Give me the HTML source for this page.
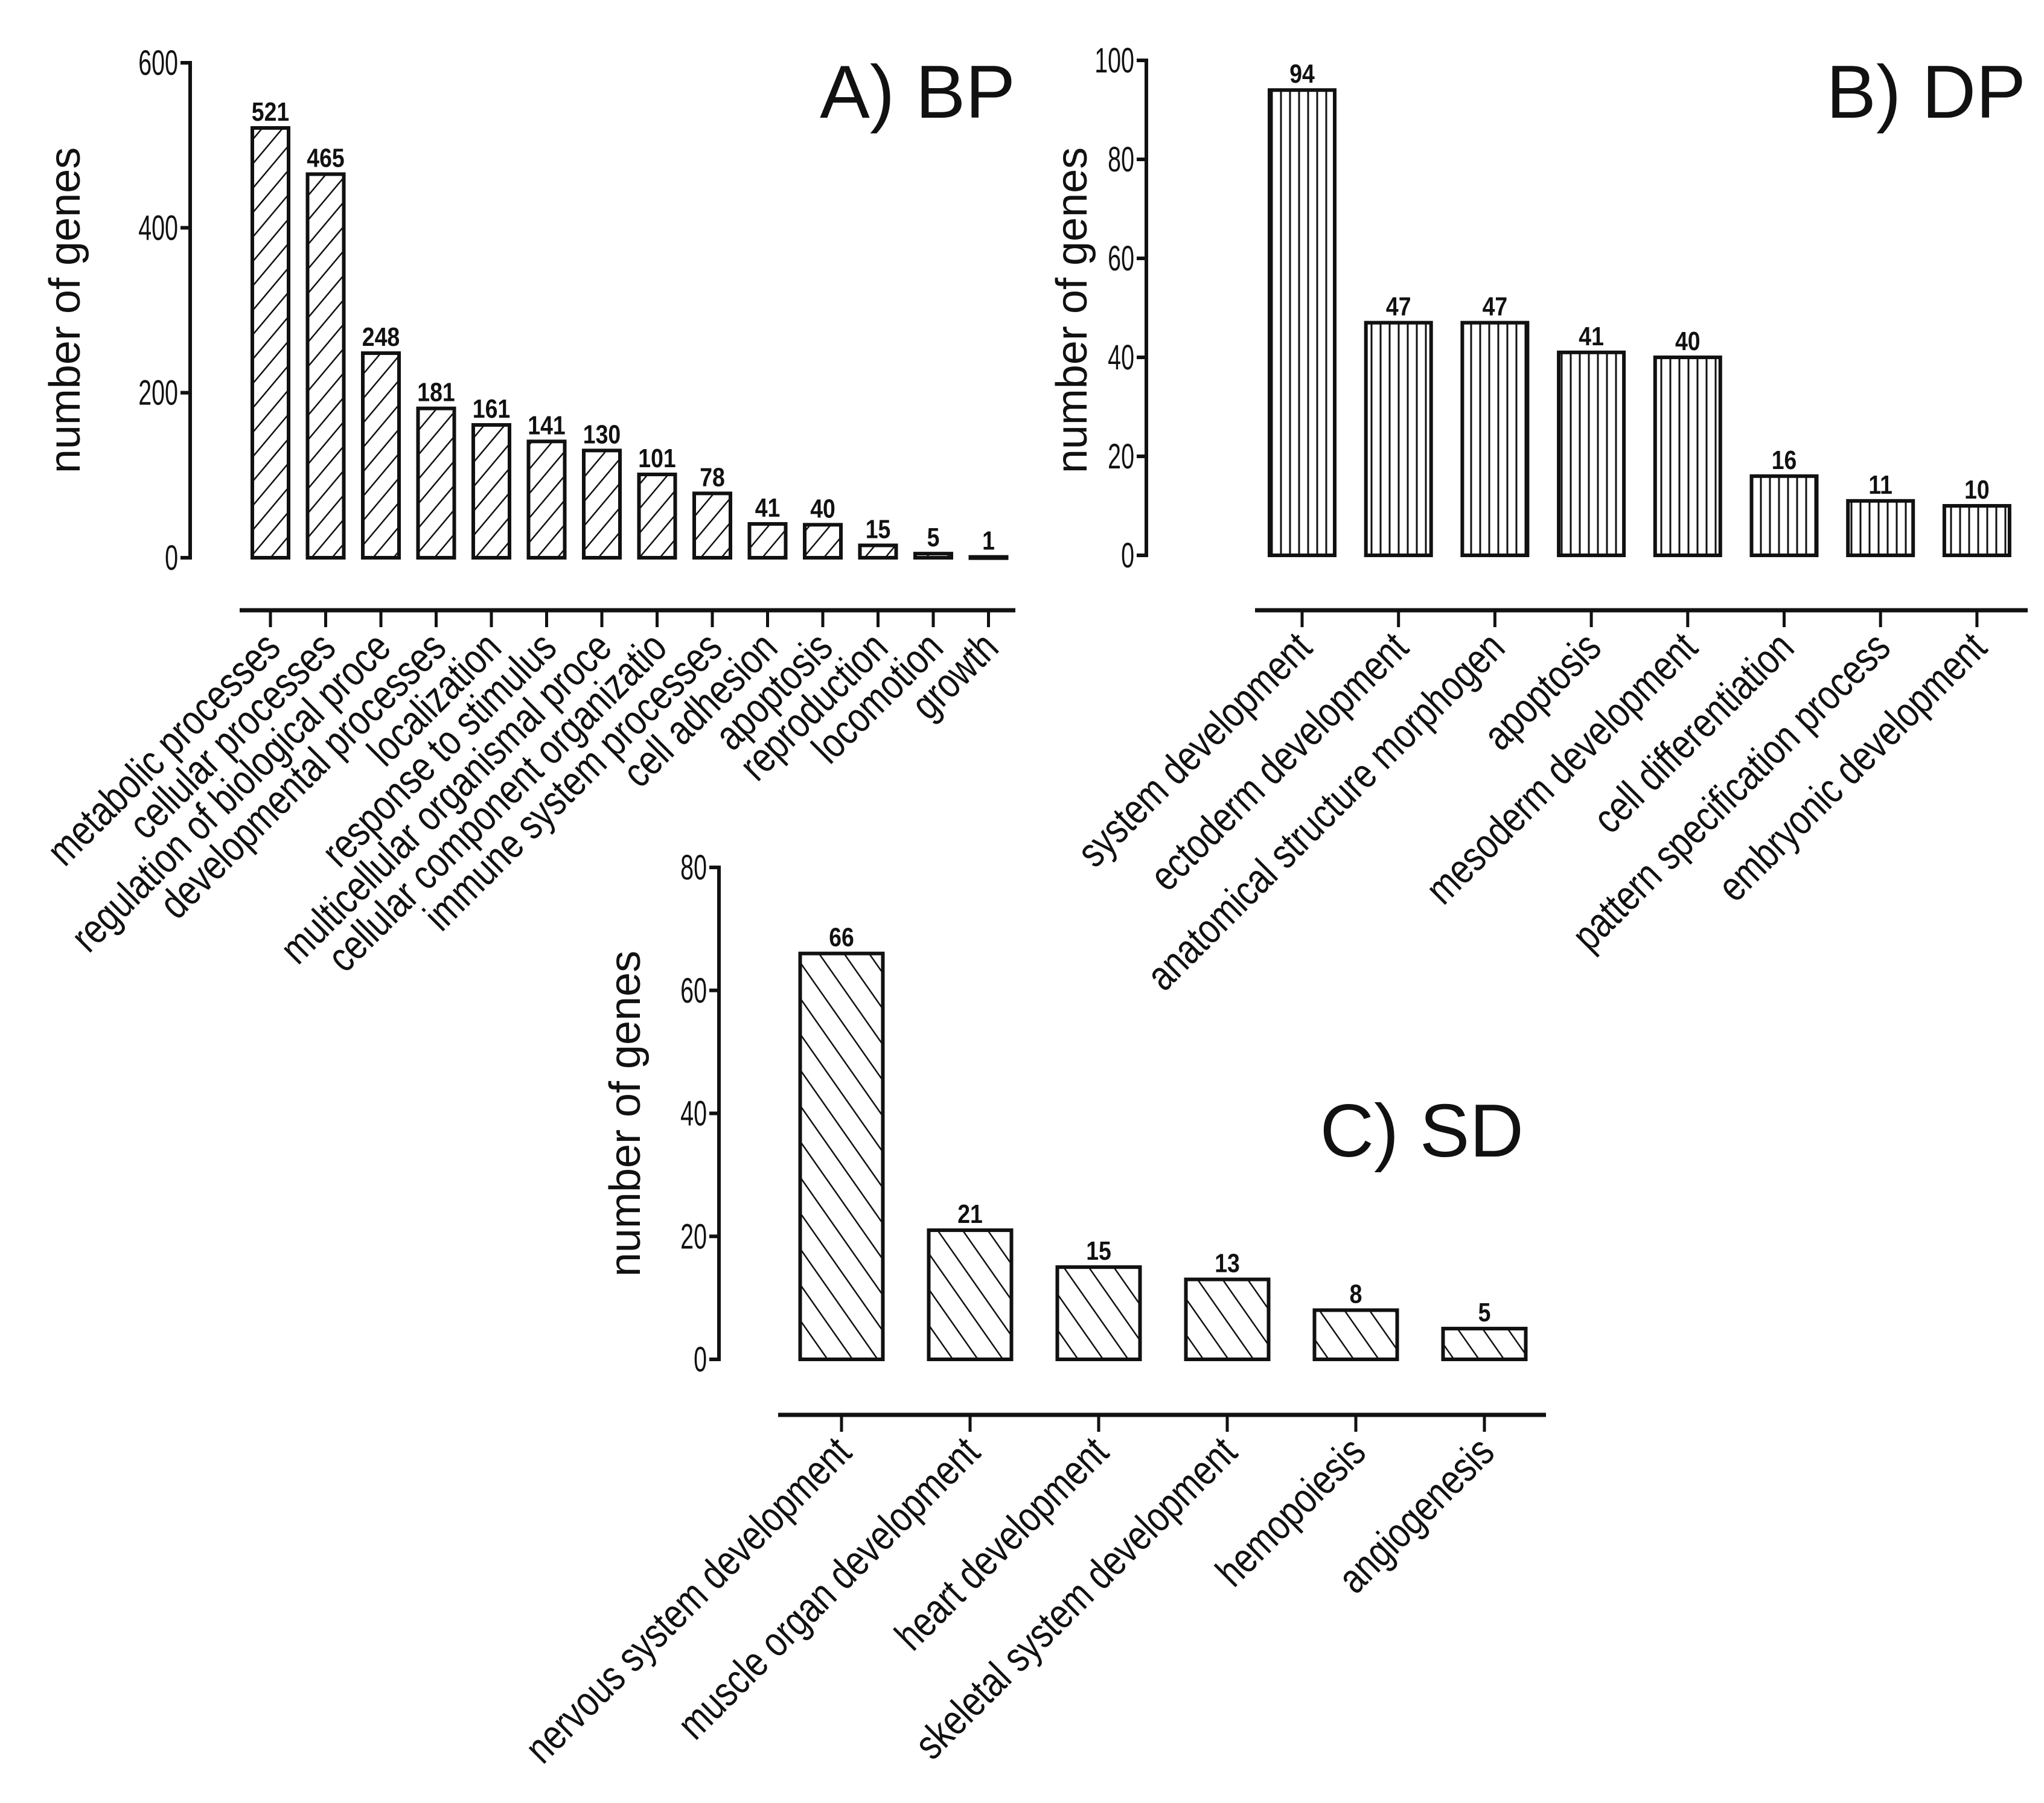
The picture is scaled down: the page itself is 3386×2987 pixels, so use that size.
<!DOCTYPE html>
<html><head><meta charset="utf-8"><style>
html,body{margin:0;padding:0;background:#fff}
svg{display:block}
text{font-family:"Liberation Sans",sans-serif;fill:#111}
</style></head><body>
<svg id="chart" width="3386" height="2987" viewBox="0 0 3386 2987" xmlns="http://www.w3.org/2000/svg">
<defs>
<pattern id="hA" patternUnits="userSpaceOnUse" width="26" height="26" patternTransform="rotate(40)"><rect width="26" height="26" fill="#fff"/><line x1="0" y1="0" x2="0" y2="26" stroke="#111" stroke-width="5"/></pattern>
<pattern id="hB" patternUnits="userSpaceOnUse" width="15" height="15"><rect width="15" height="15" fill="#fff"/><line x1="7" y1="0" x2="7" y2="15" stroke="#111" stroke-width="3"/></pattern>
<pattern id="hC" patternUnits="userSpaceOnUse" width="34" height="34" patternTransform="rotate(-35)"><rect width="34" height="34" fill="#fff"/><line x1="0" y1="0" x2="0" y2="34" stroke="#111" stroke-width="5"/></pattern>
</defs>
<g id="gA"></g><g id="gB"></g><g id="gC"></g>
</svg>
<script>
const catsA = ["metabolic processes","cellular processes","regulation of biological proce","developmental processes","localization","response to stimulus","multicellular organismal proce","cellular component organizatio","immune system processes","cell adhesion","apoptosis","reproduction","locomotion","growth"];
const valsA = [521,465,248,181,161,141,130,101,78,41,40,15,5,1];
const ticksA = [0,200,400,600];
const catsB = ["system development","ectoderm development","anatomical structure morphogen","apoptosis","mesoderm development","cell differentiation","pattern specification process","embryonic development"];
const valsB = [94,47,47,41,40,16,11,10];
const ticksB = [0,20,40,60,80,100];
const catsC = ["nervous system development","muscle organ development","heart development","skeletal system development","hemopoiesis","angiogenesis"];
const valsC = [66,21,15,13,8,5];
const ticksC = [0,20,40,60,80];

const NS="http://www.w3.org/2000/svg";
function mk(parent,tag,attrs,text){const e=document.createElementNS(NS,tag);for(const k in attrs)e.setAttribute(k,attrs[k]);if(text!==undefined)e.textContent=text;parent.appendChild(e);return e;}

function panel(g,cfg,cats,vals,ticks){
  const y=v=>cfg.y0-(v/cfg.max)*(cfg.y0-cfg.yTop);
  const x=i=>cfg.x0+i*cfg.pitch;
  const ax=mk(g,'line',{x1:cfg.ax,y1:cfg.yTop-3,x2:cfg.ax,y2:cfg.y0+3,stroke:'#111','stroke-width':6});
  
  
  ticks.forEach(t=>{
    const tk=mk(g,'line',{x1:cfg.ax-16,y1:y(t),x2:cfg.ax+3,y2:y(t),stroke:'#111','stroke-width':6});
    
    
    const tl=mk(g,'text',{x:0,y:0,'font-size':58,'text-anchor':'end',transform:`translate(${cfg.ax-20},${y(t)+20}) scale(0.68,1)`},String(t));
    
    
  });
  const yt=mk(g,'text',{x:0,y:0,'font-size':72,'text-anchor':'middle',transform:`translate(${cfg.titleX},${cfg.titleY}) rotate(-90)`},'number of genes');
  
  
  const xa=mk(g,'line',{x1:cfg.xl,y1:cfg.xy,x2:cfg.xr,y2:cfg.xy,stroke:'#111','stroke-width':7});
  
  
  cats.forEach((c,i)=>{
    const cx=x(i);
    const tk=mk(g,'line',{x1:cx,y1:cfg.xy,x2:cx,y2:cfg.xy+28,stroke:'#111','stroke-width':5});
    
    
    const tl=mk(g,'text',{x:0,y:0,'font-size':cfg.lfs,'text-anchor':'end',transform:`translate(${cx+20},${cfg.xy+66}) rotate(-45) scale(0.8,1)`},c);
    
    
    const v=vals[i];
    const b=mk(g,'rect',{x:cx-cfg.bw/2,y:y(v),width:cfg.bw,height:Math.max(cfg.y0-y(v),2),fill:`url(#${cfg.pat})`,stroke:'#111','stroke-width':6});
    
    
    const vl=mk(g,'text',{x:0,y:0,'font-size':44,'font-weight':'bold','text-anchor':'middle',transform:`translate(${cx},${y(v)-12}) scale(0.85,1)`},String(v));
    
    
  });
  const tt=mk(g,'text',{x:cfg.tx,y:cfg.ty,'font-size':124,'text-anchor':'end'},cfg.title);
  
  
}
panel(document.getElementById('gA'),{ax:315,yTop:104,y0:924,max:600,x0:448,pitch:91.5,bw:60,pat:'hA',xl:397,xr:1682,xy:1011,lfs:70,titleX:132,titleY:514,tx:1682,ty:195,title:'A) BP'},catsA,valsA,ticksA);
panel(document.getElementById('gB'),{ax:1899,yTop:100,y0:920,max:100,x0:2157,pitch:159.7,bw:108,pat:'hB',xl:2079,xr:3359,xy:1011,lfs:70,titleX:1800,titleY:514,tx:3356,ty:195,title:'B) DP'},catsB,valsB,ticksB);
panel(document.getElementById('gC'),{ax:1191,yTop:1437,y0:2252,max:80,x0:1394,pitch:213,bw:137,pat:'hC',xl:1289,xr:2561,xy:2344,lfs:70,titleX:1060,titleY:1845,tx:2524,ty:1916,title:'C) SD'},catsC,valsC,ticksC);
</script>
</body></html>
